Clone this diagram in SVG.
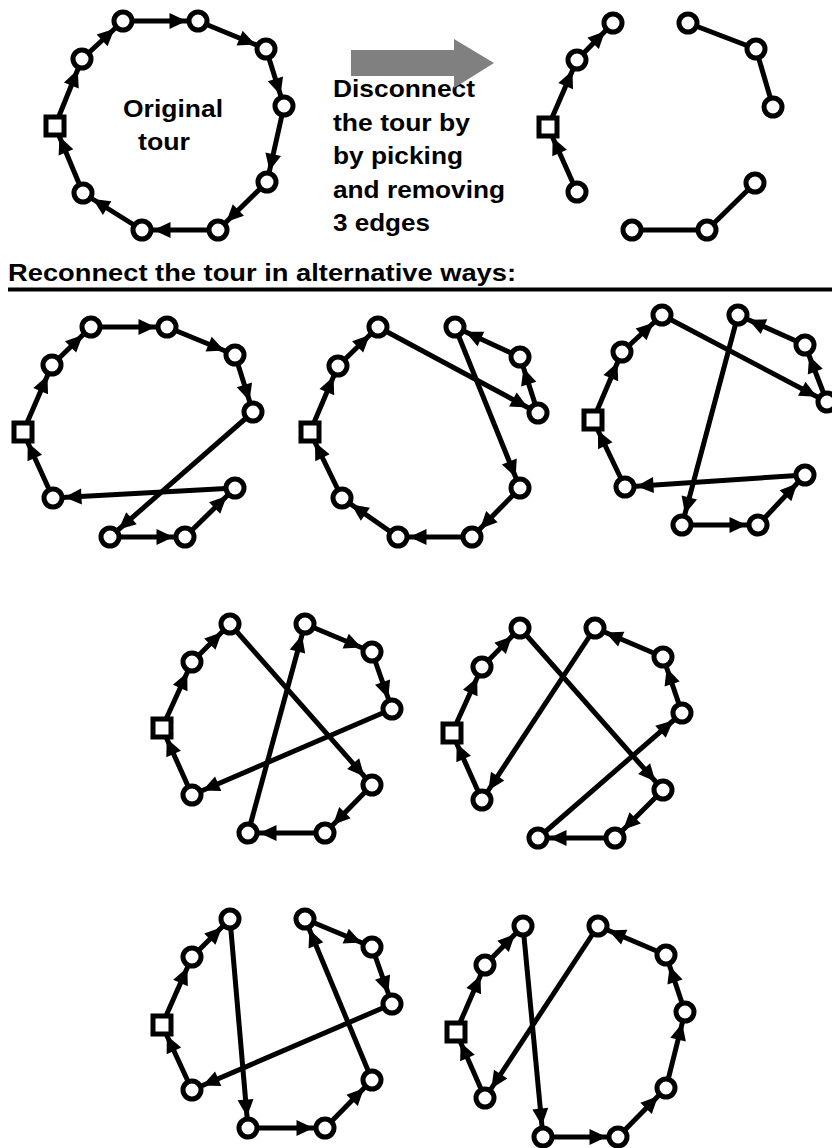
<svg xmlns="http://www.w3.org/2000/svg" width="832" height="1148" viewBox="0 0 832 1148">
<style>
.e{stroke:#000;stroke-width:5;fill:none}
.a{marker-end:url(#ah)}
.n{fill:#fff;stroke:#000;stroke-width:5}
.t{font-family:"Liberation Sans",Arial,Helvetica,sans-serif;font-weight:bold;font-size:24px;fill:#000}
</style>
<defs>
<marker id="ah" markerUnits="userSpaceOnUse" markerWidth="17" markerHeight="16" refX="28.5" refY="8" orient="auto" overflow="visible"><path d="M0,0 L17,8 L0,16 Z" fill="#000"/></marker>
</defs>
<rect width="832" height="1148" fill="#fff"/>
<g id="labels">
<text class="t" x="123" y="117" textLength="100" lengthAdjust="spacingAndGlyphs">Original</text>
<text class="t" x="138" y="150" textLength="52" lengthAdjust="spacingAndGlyphs">tour</text>
<text class="t" x="333" y="97" textLength="142" lengthAdjust="spacingAndGlyphs">Disconnect</text>
<text class="t" x="333" y="131" textLength="137" lengthAdjust="spacingAndGlyphs">the tour by</text>
<text class="t" x="333" y="164" textLength="130" lengthAdjust="spacingAndGlyphs">by picking</text>
<text class="t" x="333" y="198" textLength="172" lengthAdjust="spacingAndGlyphs">and removing</text>
<text class="t" x="333" y="231" textLength="97" lengthAdjust="spacingAndGlyphs">3 edges</text>
<text class="t" x="8" y="281" textLength="508" lengthAdjust="spacingAndGlyphs">Reconnect the tour in alternative ways:</text>
<line x1="8" y1="289.5" x2="832" y2="289.5" stroke="#000" stroke-width="4"/>
<polygon points="351,50 454,50 454,39 494,63 454,88 454,76 351,76" fill="#808080"/>
</g>
<g id="connectors">
<!-- panel 1 -->
<line class="e a" x1="55" y1="126" x2="82" y2="59"/>
<line class="e a" x1="82" y1="59" x2="123" y2="21"/>
<line class="e a" x1="123" y1="21" x2="198" y2="21"/>
<line class="e a" x1="198" y1="21" x2="266" y2="49"/>
<line class="e a" x1="266" y1="49" x2="284" y2="106"/>
<line class="e a" x1="284" y1="106" x2="267" y2="182"/>
<line class="e a" x1="267" y1="182" x2="218" y2="230"/>
<line class="e a" x1="218" y1="230" x2="142" y2="230"/>
<line class="e a" x1="142" y1="230" x2="83" y2="193"/>
<line class="e a" x1="83" y1="193" x2="55" y2="126"/>
<!-- top right -->
<line class="e a" x1="548" y1="127" x2="577" y2="60"/>
<line class="e a" x1="577" y1="60" x2="613" y2="23"/>
<line class="e a" x1="577" y1="192" x2="548" y2="127"/>
<line class="e" x1="688" y1="23" x2="756" y2="49"/>
<line class="e" x1="756" y1="49" x2="773" y2="107"/>
<line class="e" x1="632" y1="230" x2="707" y2="230"/>
<line class="e" x1="707" y1="230" x2="755" y2="183"/>
<!-- panel 2a -->
<line class="e a" x1="23" y1="432" x2="52" y2="365"/>
<line class="e a" x1="52" y1="365" x2="91" y2="327"/>
<line class="e a" x1="91" y1="327" x2="167" y2="327"/>
<line class="e a" x1="167" y1="327" x2="235" y2="355"/>
<line class="e a" x1="235" y1="355" x2="253" y2="412"/>
<line class="e a" x1="253" y1="412" x2="110" y2="537"/>
<line class="e a" x1="110" y1="537" x2="185" y2="537"/>
<line class="e a" x1="185" y1="537" x2="235" y2="488"/>
<line class="e a" x1="235" y1="488" x2="53" y2="498"/>
<line class="e a" x1="53" y1="498" x2="23" y2="432"/>
<!-- panel 2b -->
<line class="e a" x1="310" y1="432" x2="338" y2="366"/>
<line class="e a" x1="338" y1="366" x2="378" y2="327"/>
<line class="e a" x1="378" y1="327" x2="538" y2="413"/>
<line class="e a" x1="538" y1="413" x2="520" y2="357"/>
<line class="e a" x1="520" y1="357" x2="455" y2="327"/>
<line class="e a" x1="455" y1="327" x2="520" y2="488"/>
<line class="e a" x1="520" y1="488" x2="472" y2="537"/>
<line class="e a" x1="472" y1="537" x2="398" y2="537"/>
<line class="e a" x1="398" y1="537" x2="342" y2="498"/>
<line class="e a" x1="342" y1="498" x2="310" y2="432"/>
<!-- panel 2c -->
<line class="e a" x1="593" y1="420" x2="622" y2="352"/>
<line class="e a" x1="622" y1="352" x2="662" y2="315"/>
<line class="e a" x1="662" y1="315" x2="827" y2="402"/>
<line class="e a" x1="827" y1="402" x2="805" y2="345"/>
<line class="e a" x1="805" y1="345" x2="738" y2="315"/>
<line class="e a" x1="738" y1="315" x2="682" y2="525"/>
<line class="e a" x1="682" y1="525" x2="758" y2="525"/>
<line class="e a" x1="758" y1="525" x2="805" y2="475"/>
<line class="e a" x1="805" y1="475" x2="625" y2="487"/>
<line class="e a" x1="625" y1="487" x2="593" y2="420"/>
<!-- panel 3a -->
<line class="e a" x1="162" y1="728" x2="192" y2="662"/>
<line class="e a" x1="192" y1="662" x2="230" y2="624"/>
<line class="e a" x1="230" y1="624" x2="372" y2="785"/>
<line class="e a" x1="372" y1="785" x2="325" y2="833"/>
<line class="e a" x1="325" y1="833" x2="248" y2="833"/>
<line class="e a" x1="248" y1="833" x2="305" y2="624"/>
<line class="e a" x1="305" y1="624" x2="372" y2="652"/>
<line class="e a" x1="372" y1="652" x2="392" y2="709"/>
<line class="e a" x1="392" y1="709" x2="192" y2="795"/>
<line class="e a" x1="192" y1="795" x2="162" y2="728"/>
<!-- panel 3b -->
<line class="e a" x1="452" y1="733" x2="482" y2="667"/>
<line class="e a" x1="482" y1="667" x2="520" y2="628"/>
<line class="e a" x1="520" y1="628" x2="663" y2="790"/>
<line class="e a" x1="663" y1="790" x2="615" y2="838"/>
<line class="e a" x1="615" y1="838" x2="538" y2="838"/>
<line class="e a" x1="538" y1="838" x2="682" y2="713"/>
<line class="e a" x1="682" y1="713" x2="663" y2="657"/>
<line class="e a" x1="663" y1="657" x2="595" y2="628"/>
<line class="e a" x1="595" y1="628" x2="482" y2="800"/>
<line class="e a" x1="482" y1="800" x2="452" y2="733"/>
<!-- panel 4a -->
<line class="e a" x1="162" y1="1025" x2="192" y2="957"/>
<line class="e a" x1="192" y1="957" x2="230" y2="919"/>
<line class="e a" x1="230" y1="919" x2="248" y2="1128"/>
<line class="e a" x1="248" y1="1128" x2="325" y2="1128"/>
<line class="e a" x1="325" y1="1128" x2="372" y2="1080"/>
<line class="e a" x1="372" y1="1080" x2="305" y2="919"/>
<line class="e a" x1="305" y1="919" x2="372" y2="947"/>
<line class="e a" x1="372" y1="947" x2="392" y2="1004"/>
<line class="e a" x1="392" y1="1004" x2="192" y2="1090"/>
<line class="e a" x1="192" y1="1090" x2="162" y2="1025"/>
<!-- panel 4b -->
<line class="e a" x1="456" y1="1032" x2="485" y2="965"/>
<line class="e a" x1="485" y1="965" x2="523" y2="926"/>
<line class="e a" x1="523" y1="926" x2="543" y2="1137"/>
<line class="e a" x1="543" y1="1137" x2="618" y2="1137"/>
<line class="e a" x1="618" y1="1137" x2="666" y2="1088"/>
<line class="e a" x1="666" y1="1088" x2="685" y2="1012"/>
<line class="e a" x1="685" y1="1012" x2="666" y2="955"/>
<line class="e a" x1="666" y1="955" x2="598" y2="926"/>
<line class="e a" x1="598" y1="926" x2="485" y2="1098"/>
<line class="e a" x1="485" y1="1098" x2="456" y2="1032"/>
</g>
<g id="nodes">
<g id="p1-s"><rect class="n" x="46" y="117" width="18" height="18"/></g>
<g id="p1-1"><circle class="n" cx="82" cy="59" r="9"/></g>
<g id="p1-2"><circle class="n" cx="123" cy="21" r="9"/></g>
<g id="p1-3"><circle class="n" cx="198" cy="21" r="9"/></g>
<g id="p1-4"><circle class="n" cx="266" cy="49" r="9"/></g>
<g id="p1-5"><circle class="n" cx="284" cy="106" r="9"/></g>
<g id="p1-6"><circle class="n" cx="267" cy="182" r="9"/></g>
<g id="p1-7"><circle class="n" cx="218" cy="230" r="9"/></g>
<g id="p1-8"><circle class="n" cx="142" cy="230" r="9"/></g>
<g id="p1-9"><circle class="n" cx="83" cy="193" r="9"/></g>

<g id="pd-s"><rect class="n" x="539" y="118" width="18" height="18"/></g>
<g id="pd-1"><circle class="n" cx="577" cy="60" r="9"/></g>
<g id="pd-2"><circle class="n" cx="613" cy="23" r="9"/></g>
<g id="pd-3"><circle class="n" cx="688" cy="23" r="9"/></g>
<g id="pd-4"><circle class="n" cx="756" cy="49" r="9"/></g>
<g id="pd-5"><circle class="n" cx="773" cy="107" r="9"/></g>
<g id="pd-6"><circle class="n" cx="755" cy="183" r="9"/></g>
<g id="pd-7"><circle class="n" cx="707" cy="230" r="9"/></g>
<g id="pd-8"><circle class="n" cx="632" cy="230" r="9"/></g>
<g id="pd-9"><circle class="n" cx="577" cy="192" r="9"/></g>

<g id="p2a-s"><rect class="n" x="14" y="423" width="18" height="18"/></g>
<g id="p2a-1"><circle class="n" cx="52" cy="365" r="9"/></g>
<g id="p2a-2"><circle class="n" cx="91" cy="327" r="9"/></g>
<g id="p2a-3"><circle class="n" cx="167" cy="327" r="9"/></g>
<g id="p2a-4"><circle class="n" cx="235" cy="355" r="9"/></g>
<g id="p2a-5"><circle class="n" cx="253" cy="412" r="9"/></g>
<g id="p2a-6"><circle class="n" cx="235" cy="488" r="9"/></g>
<g id="p2a-7"><circle class="n" cx="185" cy="537" r="9"/></g>
<g id="p2a-8"><circle class="n" cx="110" cy="537" r="9"/></g>
<g id="p2a-9"><circle class="n" cx="53" cy="498" r="9"/></g>

<g id="p2b-s"><rect class="n" x="301" y="423" width="18" height="18"/></g>
<g id="p2b-1"><circle class="n" cx="338" cy="366" r="9"/></g>
<g id="p2b-2"><circle class="n" cx="378" cy="327" r="9"/></g>
<g id="p2b-3"><circle class="n" cx="455" cy="327" r="9"/></g>
<g id="p2b-4"><circle class="n" cx="520" cy="357" r="9"/></g>
<g id="p2b-5"><circle class="n" cx="538" cy="413" r="9"/></g>
<g id="p2b-6"><circle class="n" cx="520" cy="488" r="9"/></g>
<g id="p2b-7"><circle class="n" cx="472" cy="537" r="9"/></g>
<g id="p2b-8"><circle class="n" cx="398" cy="537" r="9"/></g>
<g id="p2b-9"><circle class="n" cx="342" cy="498" r="9"/></g>

<g id="p2c-s"><rect class="n" x="584" y="411" width="18" height="18"/></g>
<g id="p2c-1"><circle class="n" cx="622" cy="352" r="9"/></g>
<g id="p2c-2"><circle class="n" cx="662" cy="315" r="9"/></g>
<g id="p2c-3"><circle class="n" cx="738" cy="315" r="9"/></g>
<g id="p2c-4"><circle class="n" cx="805" cy="345" r="9"/></g>
<g id="p2c-5"><circle class="n" cx="827" cy="402" r="9"/></g>
<g id="p2c-6"><circle class="n" cx="805" cy="475" r="9"/></g>
<g id="p2c-7"><circle class="n" cx="758" cy="525" r="9"/></g>
<g id="p2c-8"><circle class="n" cx="682" cy="525" r="9"/></g>
<g id="p2c-9"><circle class="n" cx="625" cy="487" r="9"/></g>

<g id="p3a-s"><rect class="n" x="153" y="719" width="18" height="18"/></g>
<g id="p3a-1"><circle class="n" cx="192" cy="662" r="9"/></g>
<g id="p3a-2"><circle class="n" cx="230" cy="624" r="9"/></g>
<g id="p3a-3"><circle class="n" cx="305" cy="624" r="9"/></g>
<g id="p3a-4"><circle class="n" cx="372" cy="652" r="9"/></g>
<g id="p3a-5"><circle class="n" cx="392" cy="709" r="9"/></g>
<g id="p3a-6"><circle class="n" cx="372" cy="785" r="9"/></g>
<g id="p3a-7"><circle class="n" cx="325" cy="833" r="9"/></g>
<g id="p3a-8"><circle class="n" cx="248" cy="833" r="9"/></g>
<g id="p3a-9"><circle class="n" cx="192" cy="795" r="9"/></g>

<g id="p3b-s"><rect class="n" x="443" y="724" width="18" height="18"/></g>
<g id="p3b-1"><circle class="n" cx="482" cy="667" r="9"/></g>
<g id="p3b-2"><circle class="n" cx="520" cy="628" r="9"/></g>
<g id="p3b-3"><circle class="n" cx="595" cy="628" r="9"/></g>
<g id="p3b-4"><circle class="n" cx="663" cy="657" r="9"/></g>
<g id="p3b-5"><circle class="n" cx="682" cy="713" r="9"/></g>
<g id="p3b-6"><circle class="n" cx="663" cy="790" r="9"/></g>
<g id="p3b-7"><circle class="n" cx="615" cy="838" r="9"/></g>
<g id="p3b-8"><circle class="n" cx="538" cy="838" r="9"/></g>
<g id="p3b-9"><circle class="n" cx="482" cy="800" r="9"/></g>

<g id="p4a-s"><rect class="n" x="153" y="1016" width="18" height="18"/></g>
<g id="p4a-1"><circle class="n" cx="192" cy="957" r="9"/></g>
<g id="p4a-2"><circle class="n" cx="230" cy="919" r="9"/></g>
<g id="p4a-3"><circle class="n" cx="305" cy="919" r="9"/></g>
<g id="p4a-4"><circle class="n" cx="372" cy="947" r="9"/></g>
<g id="p4a-5"><circle class="n" cx="392" cy="1004" r="9"/></g>
<g id="p4a-6"><circle class="n" cx="372" cy="1080" r="9"/></g>
<g id="p4a-7"><circle class="n" cx="325" cy="1128" r="9"/></g>
<g id="p4a-8"><circle class="n" cx="248" cy="1128" r="9"/></g>
<g id="p4a-9"><circle class="n" cx="192" cy="1090" r="9"/></g>

<g id="p4b-s"><rect class="n" x="447" y="1023" width="18" height="18"/></g>
<g id="p4b-1"><circle class="n" cx="485" cy="965" r="9"/></g>
<g id="p4b-2"><circle class="n" cx="523" cy="926" r="9"/></g>
<g id="p4b-3"><circle class="n" cx="598" cy="926" r="9"/></g>
<g id="p4b-4"><circle class="n" cx="666" cy="955" r="9"/></g>
<g id="p4b-5"><circle class="n" cx="685" cy="1012" r="9"/></g>
<g id="p4b-6"><circle class="n" cx="666" cy="1088" r="9"/></g>
<g id="p4b-7"><circle class="n" cx="618" cy="1137" r="9"/></g>
<g id="p4b-8"><circle class="n" cx="543" cy="1137" r="9"/></g>
<g id="p4b-9"><circle class="n" cx="485" cy="1098" r="9"/></g>
</g>
</svg>
